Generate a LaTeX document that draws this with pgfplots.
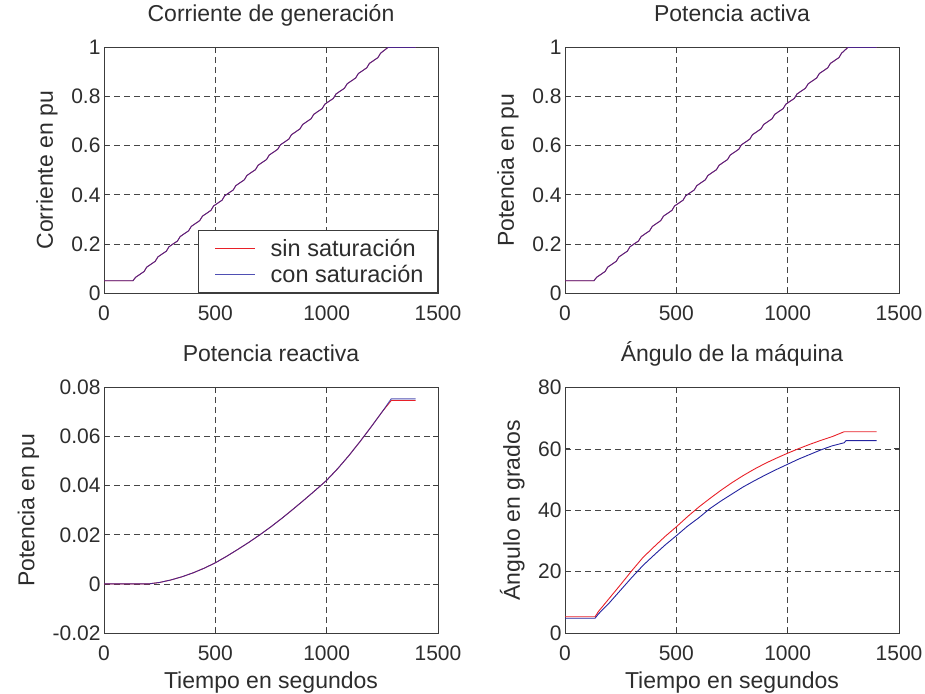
\documentclass[border=0pt]{standalone}
\usepackage{pgfplots}
\pgfplotsset{compat=1.18}
\usepackage{pgfplotstable}
\usepackage{fontspec}
\setmainfont{Liberation Sans}

\definecolor{tgray}{RGB}{45,45,45}
\definecolor{axgray}{RGB}{60,60,60}
\definecolor{gridgray}{RGB}{70,70,70}
\definecolor{sinsat}{RGB}{232,32,40}
\definecolor{consat}{RGB}{36,36,160}

% Corriente de generacion (pu)
\pgfplotstableread{
t sin con
0 0.050 0.050
130 0.050 0.050
142 0.064 0.064
180 0.0875 0.0875
192 0.1055 0.1055
230 0.129 0.129
242 0.147 0.147
280 0.1705 0.1705
292 0.1885 0.1885
330 0.2119 0.2119
342 0.2299 0.2299
380 0.2534 0.2534
392 0.2714 0.2714
430 0.2949 0.2949
442 0.3129 0.3129
480 0.3364 0.3364
492 0.3544 0.3544
530 0.3779 0.3779
542 0.3959 0.3959
580 0.4194 0.4194
592 0.4374 0.4374
630 0.4609 0.4609
642 0.4789 0.4789
680 0.5023 0.5023
692 0.5203 0.5203
730 0.5438 0.5438
742 0.5618 0.5618
780 0.5853 0.5853
792 0.6033 0.6033
830 0.6268 0.6268
842 0.6448 0.6448
880 0.6683 0.6683
892 0.6863 0.6863
930 0.7098 0.7098
942 0.7278 0.7278
980 0.7513 0.7513
992 0.7693 0.7693
1030 0.7927 0.7927
1042 0.8107 0.8107
1080 0.8342 0.8342
1092 0.8522 0.8522
1130 0.8757 0.8757
1142 0.8937 0.8937
1180 0.9172 0.9172
1192 0.9352 0.9352
1230 0.9587 0.9587
1242 0.9767 0.9767
1275 1.000 1.000
1400 1.000 1.000
}\corriente

% Potencia activa (pu)
\pgfplotstableread{
t sin con
0 0.050 0.050
130 0.050 0.050
142 0.064 0.064
180 0.0875 0.0875
192 0.1055 0.1055
230 0.129 0.129
242 0.147 0.147
280 0.1705 0.1705
292 0.1885 0.1885
330 0.2119 0.2119
342 0.2299 0.2299
380 0.2534 0.2534
392 0.2714 0.2714
430 0.2949 0.2949
442 0.3129 0.3129
480 0.3364 0.3364
492 0.3544 0.3544
530 0.3779 0.3779
542 0.3959 0.3959
580 0.4194 0.4194
592 0.4374 0.4374
630 0.4609 0.4609
642 0.4789 0.4789
680 0.5023 0.5023
692 0.5203 0.5203
730 0.5438 0.5438
742 0.5618 0.5618
780 0.5853 0.5853
792 0.6033 0.6033
830 0.6268 0.6268
842 0.6448 0.6448
880 0.6683 0.6683
892 0.6863 0.6863
930 0.7098 0.7098
942 0.7278 0.7278
980 0.7513 0.7513
992 0.7693 0.7693
1030 0.7927 0.7927
1042 0.8107 0.8107
1080 0.8342 0.8342
1092 0.8522 0.8522
1130 0.8757 0.8757
1142 0.8937 0.8937
1180 0.9172 0.9172
1192 0.9352 0.9352
1230 0.9587 0.9587
1242 0.9767 0.9767
1270 1.000 1.000
1400 1.000 1.000
}\pactiva

% Potencia reactiva (pu)
\pgfplotstableread{
t sin con
0 0 0
200 0 0
250 0.0006 0.0006
300 0.0016 0.0016
350 0.0029 0.0029
400 0.0045 0.0045
450 0.0064 0.0064
500 0.0086 0.0086
550 0.0112 0.0112
600 0.0140 0.0140
650 0.0169 0.0169
700 0.0200 0.0200
750 0.0233 0.0233
800 0.0268 0.0268
850 0.0305 0.0305
900 0.0343 0.0343
950 0.0382 0.0382
1000 0.0422 0.0422
1050 0.0470 0.0470
1100 0.0523 0.0523
1150 0.0580 0.0580
1200 0.0640 0.0640
1250 0.0702 0.0702
1290 0.0747 0.0754
1400 0.0747 0.0754
}\preactiva

% Angulo de la maquina (grados)
\pgfplotstableread{
t sin con
0 5.3 4.8
135 5.3 4.8
150 7.0 6.2
200 11.4 9.9
250 15.8 14.0
300 20.3 18.1
350 24.6 22.0
400 28.1 25.4
450 31.5 28.7
500 34.6 31.7
550 37.9 34.8
600 41.0 37.5
650 43.8 40.5
700 46.5 43.0
750 49.0 45.3
800 51.3 47.6
850 53.4 49.6
900 55.3 51.5
950 57.0 53.3
1000 58.6 55.0
1050 60.1 56.7
1100 61.5 58.2
1150 62.8 59.7
1200 64.0 61.0
1254 65.6 62.0
1262 65.6 62.7
1400 65.6 62.7
}\angulo

\newcommand{\lblfont}{\fontsize{23bp}{27bp}\selectfont}
\newcommand{\tckfont}{\fontsize{21bp}{24bp}\selectfont}

\pgfplotsset{
  panel/.style={
    scale only axis, width=334bp, height=245.5bp,
    xmin=0, xmax=1500,
    xtick={0,500,1000,1500}, xticklabels={0,500,1000,1500},
    grid=major,
    major grid style={draw=gridgray, line width=0.7bp, dash pattern=on 6bp off 4bp},
    axis line style={draw=axgray, line width=0.9bp},
    tick style={draw=axgray, line width=0.8bp},
    major tick length=5bp, tick align=inside,
    tick label style={font=\tckfont, text=tgray},
    /pgf/number format/assume math mode=true,
    scaled ticks=false,
    xticklabel style={anchor=base, yshift=-27.5bp},
    title style={font=\lblfont, text=tgray, at={(0.5,1)}, anchor=base, yshift=20.5bp},
    xlabel style={font=\lblfont, text=tgray, at={(0.5,0)}, anchor=base, yshift=-55bp},
    ylabel style={font=\lblfont, text=tgray, at={(ticklabel cs:0.5,15bp)}, anchor=base},
    clip=false,
  },
  sinline/.style={draw=sinsat, line width=0.9bp, mark=none},
  conline/.style={draw=consat, line width=0.9bp, mark=none},
}

\begin{document}
\begin{tikzpicture}
\path[use as bounding box] (0,0) rectangle (925bp,-694bp);

% Corriente de generacion
\begin{axis}[panel, at={(104bp,-293bp)}, anchor=south west,
  ymin=0, ymax=1, ytick={0,0.2,0.4,0.6,0.8,1},
  yticklabels={0,0.2,0.4,0.6,0.8,1},
  title={Corriente de generación}, ylabel={Corriente en pu},
  legend style={at={(1,0)}, anchor=south east, draw=axgray, line width=0.9bp,
    fill=white, font=\fontsize{23.5bp}{27bp}\selectfont, text=tgray,
    inner xsep=10bp, inner ysep=6bp,
    row sep=1bp, column sep=11bp, nodes={inner xsep=4bp, inner ysep=3bp}},
  legend cell align=left,
  legend image code/.code={\path (-6bp,0bp); \draw[#1, line width=1bp] (0bp,0bp) -- (40bp,0bp);}]
\addplot[sinline] table[x=t, y=sin] {\corriente};
\addlegendentry{sin saturación}
\addplot[conline, draw opacity=0.8] table[x=t, y=con] {\corriente};
\addlegendentry{con saturación}
\end{axis}

% Potencia activa
\begin{axis}[panel, at={(565bp,-293bp)}, anchor=south west,
  ymin=0, ymax=1, ytick={0,0.2,0.4,0.6,0.8,1},
  yticklabels={0,0.2,0.4,0.6,0.8,1},
  title={Potencia activa}, ylabel={Potencia en pu}]
\addplot[sinline] table[x=t, y=sin] {\pactiva};
\addplot[conline, draw opacity=0.8] table[x=t, y=con] {\pactiva};
\end{axis}

% Potencia reactiva
\begin{axis}[panel, at={(104bp,-633bp)}, anchor=south west,
  ymin=-0.02, ymax=0.08, ytick={-0.02,0,0.02,0.04,0.06,0.08},
  yticklabels={-0.02,0,0.02,0.04,0.06,0.08},
  title={Potencia reactiva}, ylabel={Potencia en pu},
  xlabel={Tiempo en segundos}]
\addplot[sinline] table[x=t, y=sin] {\preactiva};
\addplot[conline, draw opacity=0.8] table[x=t, y=con] {\preactiva};
\end{axis}

% Angulo de la maquina
\begin{axis}[panel, at={(565bp,-633bp)}, anchor=south west,
  ymin=0, ymax=80, ytick={0,20,40,60,80},
  yticklabels={0,20,40,60,80},
  title={Ángulo de la máquina}, ylabel={Ángulo en grados},
  xlabel={Tiempo en segundos}]
\addplot[sinline] table[x=t, y=sin] {\angulo};
\addplot[conline] table[x=t, y=con] {\angulo};
\end{axis}
\end{tikzpicture}
\end{document}
